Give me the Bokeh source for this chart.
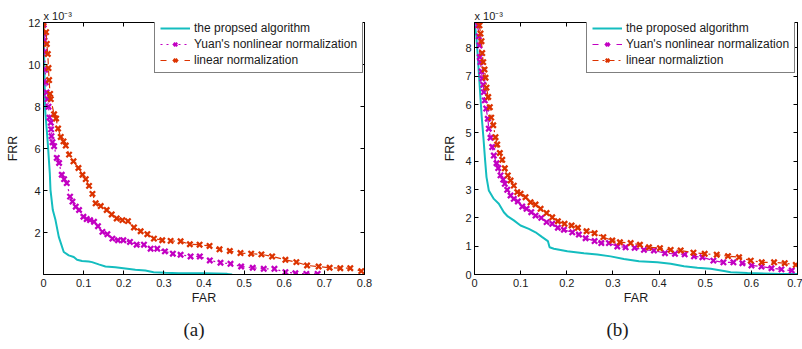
from bokeh.plotting import figure
from bokeh.models import LinearAxis, FixedTicker, Range1d, Legend, LegendItem, Title
from bokeh.layouts import row
from bokeh.embed import file_html
from bokeh.resources import INLINE

# ---------------- data (FRR in units of 1e-3) ----------------
# panel (a)
A_PROP_FAR = [0.0, 0.002, 0.004, 0.010, 0.0157, 0.0174, 0.0232, 0.0299, 0.0381, 0.0505, 0.063, 0.0754,
              0.0836, 0.096, 0.1127, 0.121, 0.1376, 0.1543, 0.1791, 0.204, 0.2289, 0.2538, 0.2744, 0.3036,
              0.3367, 0.40, 0.4578, 0.4702]
A_PROP_FRR = [12.0, 10.0, 7.87, 6.43, 4.83, 4.03, 3.07, 2.59, 1.79, 1.07, 0.91, 0.83,
              0.70, 0.64, 0.62, 0.59, 0.48, 0.38, 0.35, 0.29, 0.23, 0.19, 0.11, 0.08,
              0.06, 0.06, 0.03, 0.0]

A_YUAN_FAR = [0.0005, 0.0015, 0.0025, 0.0032, 0.004, 0.0057, 0.0075, 0.010, 0.0124, 0.0149, 0.0182, 0.0189,
              0.0199, 0.0224, 0.0264, 0.0331, 0.0388, 0.0455, 0.0513, 0.058, 0.0662, 0.0722, 0.0804, 0.0886,
              0.0995, 0.1077, 0.116, 0.1259, 0.1358, 0.1468, 0.1592, 0.1717, 0.1856, 0.199, 0.2155, 0.2321,
              0.2503, 0.267, 0.2836, 0.3026, 0.3224, 0.3416, 0.3665, 0.3896, 0.4145, 0.4411, 0.466, 0.4926,
              0.5215, 0.5489, 0.5755, 0.6029, 0.6277, 0.6551, 0.6832]
A_YUAN_FRR = [11.9, 11.46, 11.14, 10.59, 9.75, 9.15, 8.67, 8.35, 7.99, 7.47, 7.23, 6.91,
              6.59, 6.30, 6.11, 5.55, 5.31, 4.75, 4.54, 4.35, 3.71, 3.47, 3.23, 3.07,
              2.75, 2.64, 2.59, 2.51, 2.30, 2.03, 1.92, 1.71, 1.63, 1.63, 1.55, 1.42,
              1.42, 1.23, 1.23, 1.10, 0.99, 0.94, 0.86, 0.86, 0.67, 0.56, 0.51, 0.38,
              0.32, 0.27, 0.27, 0.11, 0.06, 0.03, 0.03]

A_LIN_FAR = [0.0, 0.0065, 0.0082, 0.0107, 0.0124, 0.0139, 0.0164, 0.0182, 0.0264, 0.0314, 0.0363, 0.043,
             0.0498, 0.0555, 0.0637, 0.0747, 0.0871, 0.0971, 0.1053, 0.1135, 0.122, 0.130, 0.1426, 0.1575,
             0.170, 0.1824, 0.1966, 0.2105, 0.2255, 0.2421, 0.2588, 0.2752, 0.296, 0.3168, 0.3416, 0.3648,
             0.389, 0.4138, 0.4387, 0.4643, 0.4909, 0.5175, 0.5431, 0.5698, 0.6029, 0.6302, 0.6569, 0.6857,
             0.7131, 0.7397, 0.7646, 0.792]
A_LIN_FRR = [11.99, 11.54, 10.98, 10.50, 9.83, 9.26, 8.60, 8.35, 7.63, 7.43, 6.95, 6.55,
             6.34, 6.14, 5.71, 5.39, 5.07, 4.75, 4.54, 4.22, 3.84, 3.39, 3.26, 3.07,
             2.86, 2.67, 2.59, 2.54, 2.24, 2.06, 1.92, 1.71, 1.63, 1.60, 1.58, 1.44,
             1.42, 1.36, 1.20, 1.12, 1.02, 0.99, 0.96, 0.86, 0.70, 0.59, 0.43, 0.38,
             0.32, 0.30, 0.30, 0.16]

# panel (b)
B_PROP_FAR = [0.0, 0.004, 0.0075, 0.0115, 0.0155, 0.0195, 0.023, 0.026, 0.031, 0.0419, 0.0527, 0.0636,
              0.0722, 0.0852, 0.0998, 0.1178, 0.1323, 0.1468, 0.159, 0.1627, 0.172, 0.2011, 0.2371, 0.2661,
              0.295, 0.3238, 0.3564, 0.3963, 0.4251, 0.454, 0.483, 0.5119, 0.5407, 0.5553, 0.5915, 0.6637, 0.70]
B_PROP_FRR = [8.9, 8.4, 7.6, 6.6, 5.6, 4.8, 4.03, 3.44, 2.97, 2.67, 2.50, 2.20,
              2.05, 1.91, 1.73, 1.61, 1.49, 1.32, 1.18, 0.96, 0.91, 0.82, 0.75, 0.71,
              0.64, 0.55, 0.47, 0.43, 0.38, 0.29, 0.24, 0.20, 0.12, 0.08, 0.05, 0.02, 0.02]

B_YUAN_FAR = [0.0072, 0.0093, 0.0108, 0.0115, 0.013, 0.0152, 0.0167, 0.0189, 0.0202, 0.0223, 0.0254, 0.0288,
              0.031, 0.0347, 0.0384, 0.0419, 0.0477, 0.0514, 0.0564, 0.0622, 0.0657, 0.0709, 0.0781, 0.0852,
              0.0939, 0.1035, 0.1128, 0.123, 0.1323, 0.1447, 0.1562, 0.1685, 0.1807, 0.1937, 0.2119, 0.2262,
              0.2408, 0.2603, 0.2748, 0.2913, 0.3095, 0.3275, 0.347, 0.3672, 0.3889, 0.4128, 0.4345, 0.4555,
              0.4757, 0.4939, 0.5177, 0.5394, 0.5611, 0.5806, 0.6002, 0.6219, 0.6436, 0.6652, 0.6876]
B_YUAN_FRR = [8.80, 8.41, 8.09, 7.68, 7.50, 7.17, 6.92, 6.70, 6.44, 6.15, 5.86, 5.50,
              5.15, 4.83, 4.50, 4.20, 3.93, 3.76, 3.50, 3.35, 3.20, 2.99, 2.79, 2.67,
              2.58, 2.40, 2.32, 2.20, 2.08, 2.00, 1.85, 1.79, 1.65, 1.58, 1.49, 1.41,
              1.28, 1.18, 1.11, 1.11, 0.99, 0.96, 0.94, 0.87, 0.85, 0.75, 0.73, 0.71,
              0.64, 0.61, 0.49, 0.43, 0.43, 0.40, 0.32, 0.28, 0.22, 0.18, 0.14]

B_LIN_FAR = [0.0108, 0.013, 0.0152, 0.0167, 0.0189, 0.0217, 0.0239, 0.026, 0.0297, 0.0332, 0.0362, 0.0406,
             0.0455, 0.0492, 0.0549, 0.0601, 0.0657, 0.0722, 0.0781, 0.0852, 0.0926, 0.0998, 0.1106, 0.1215,
             0.1323, 0.1432, 0.1562, 0.1685, 0.1807, 0.1952, 0.2104, 0.2241, 0.2429, 0.2603, 0.2792, 0.2987,
             0.3152, 0.3384, 0.3585, 0.3781, 0.4019, 0.4251, 0.4468, 0.4744, 0.4989, 0.5249, 0.5494, 0.5733,
             0.5987, 0.6225, 0.6492, 0.6724, 0.6963]
B_LIN_FRR = [8.80, 8.51, 8.24, 7.82, 7.50, 7.24, 6.95, 6.60, 6.27, 5.91, 5.54, 5.27,
             4.85, 4.59, 4.29, 4.05, 3.75, 3.50, 3.32, 3.14, 2.91, 2.85, 2.73, 2.55,
             2.47, 2.32, 2.17, 2.02, 1.88, 1.79, 1.73, 1.65, 1.53, 1.46, 1.32, 1.20,
             1.14, 1.11, 1.05, 0.96, 0.93, 0.87, 0.85, 0.77, 0.73, 0.70, 0.65, 0.61,
             0.49, 0.43, 0.43, 0.40, 0.34]

A_NAMES = ["the propsed algorithm", "Yuan's nonlinear normalization", "linear normalization"]
B_NAMES = ["the proposed algorithm", "Yuan's nonlinear normalization", "linear normaliztion"]

A_XTICKS = [0, 0.1, 0.2, 0.3, 0.4, 0.5, 0.6, 0.7, 0.8]
A_XLABELS = ["0", "0.1", "0.2", "0.3", "0.4", "0.5", "0.6", "0.7", "0.8"]
A_YTICKS = [2, 4, 6, 8, 10, 12]
A_YLABELS = ["2", "4", "6", "8", "10", "12"]
B_XTICKS = [0, 0.1, 0.2, 0.3, 0.4, 0.5, 0.6, 0.7]
B_XLABELS = ["0", "0.1", "0.2", "0.3", "0.4", "0.5", "0.6", "0.7"]
B_YTICKS = [0, 1, 2, 3, 4, 5, 6, 7, 8]
B_YLABELS = ["0", "1", "2", "3", "4", "5", "6", "7", "8"]
SCALE_NOTE = "x 10\u207b\u00b3"

# ---------------- style ----------------
FONT = "Liberation Sans"
SERIF = "Liberation Serif"
CYAN = "#14BDBF"
MAG = "#C200C2"
RED = "#DC3300"
TXT = "#1a1a1a"
H = 349
TOP, BOTTOM = 22, 75


def style_axis(ax, ticks, labels, show_labels=True):
    ax.ticker = FixedTicker(ticks=ticks)
    ax.major_label_overrides = {t: l for t, l in zip(ticks, labels)}
    ax.major_tick_in = 4
    ax.major_tick_out = 0
    ax.minor_tick_in = 0
    ax.minor_tick_out = 0
    ax.axis_line_color = "black"
    ax.axis_line_width = 1
    ax.major_tick_line_color = "black"
    ax.major_label_text_font = FONT
    ax.major_label_text_color = TXT
    if show_labels:
        ax.major_label_text_font_size = "11px"
    else:
        ax.major_label_text_font_size = "0px"
        ax.major_label_text_alpha = 0
        ax.major_label_standoff = 0


def panel(width, left, right, xr, yr, xt, xl, yt, yl, data, names, dashes, caption, cap_off, leg_x):
    p = figure(width=width, height=H, x_range=Range1d(*xr), y_range=Range1d(*yr),
               output_backend="svg", toolbar_location=None,
               min_border_left=left, min_border_right=right,
               min_border_top=TOP, min_border_bottom=BOTTOM)
    p.grid.visible = False
    p.outline_line_color = "black"
    p.outline_line_width = 1
    p.background_fill_color = "white"
    p.border_fill_color = "white"

    # exponent note above the frame (as a left-aligned title)
    p.title.text = SCALE_NOTE
    p.title.align = "left"
    p.title.text_font = FONT
    p.title.text_font_size = "11px"
    p.title.text_font_style = "normal"
    p.title.text_color = TXT
    p.title.standoff = 2
    p.title.offset = 0

    xa = p.xaxis[0]
    style_axis(xa, xt, xl)
    xa.major_label_standoff = 4
    xa.axis_label = "FAR"
    xa.axis_label_text_font = FONT
    xa.axis_label_text_font_size = "12.5px"
    xa.axis_label_text_font_style = "normal"
    xa.axis_label_text_color = TXT
    xa.axis_label_standoff = 1

    ya = p.yaxis[0]
    style_axis(ya, yt, yl)
    ya.major_label_standoff = 3
    ya.axis_label = "FRR"
    ya.axis_label_text_font = FONT
    ya.axis_label_text_font_size = "12.5px"
    ya.axis_label_text_font_style = "normal"
    ya.axis_label_text_color = TXT
    ya.axis_label_standoff = 5

    top = LinearAxis()
    style_axis(top, xt, xl, show_labels=False)
    p.add_layout(top, "above")
    rgt = LinearAxis()
    style_axis(rgt, yt, yl, show_labels=False)
    p.add_layout(rgt, "right")

    (pf, pr), (yf, yr_), (lf, lr) = data
    r_prop = p.line(pf, pr, line_color=CYAN, line_width=2)
    r_yl = p.line(yf, yr_, line_color=MAG, line_width=1.2, line_dash=dashes[0])
    r_ys = p.scatter(yf, yr_, marker="x", size=7.5, line_color=MAG, line_width=2.3)
    r_ll = p.line(lf, lr, line_color=RED, line_width=1.2, line_dash=dashes[1])
    r_ls = p.scatter(lf, lr, marker="x", size=7.5, line_color=RED, line_width=2.3)

    legend = Legend(items=[LegendItem(label=names[0], renderers=[r_prop]),
                           LegendItem(label=names[1], renderers=[r_yl, r_ys]),
                           LegendItem(label=names[2], renderers=[r_ll, r_ls])],
                    location=(leg_x, 201), orientation="vertical",
                    border_line_color="black", border_line_width=1.6,
                    background_fill_color="white", background_fill_alpha=1,
                    label_text_font=FONT, label_text_font_size="12px", label_text_color=TXT,
                    glyph_width=30, glyph_height=12, label_height=12, label_standoff=4,
                    spacing=2, padding=5, margin=0)
    p.add_layout(legend)

    cap = Title(text=caption, align="left", offset=cap_off, standoff=18,
                text_font=SERIF, text_font_size="19px", text_font_style="normal",
                text_color=TXT)
    p.add_layout(cap, "below")
    return p


pa = panel(400, 43, 36, (0, 0.8), (0, 12), A_XTICKS, A_XLABELS, A_YTICKS, A_YLABELS,
           ((A_PROP_FAR, A_PROP_FRR), (A_YUAN_FAR, A_YUAN_FRR), (A_LIN_FAR, A_LIN_FRR)),
           A_NAMES, ("dotted", "dashed"), "(a)", 140, 111)
pb = panel(402, 74, 5, (0, 0.7), (0, 8.9), B_XTICKS, B_XLABELS, B_YTICKS, B_YLABELS,
           ((B_PROP_FAR, B_PROP_FRR), (B_YUAN_FAR, B_YUAN_FRR), (B_LIN_FAR, B_LIN_FRR)),
           B_NAMES, ("dashed", "dashdot"), "(b)", 132, 112)

layout = row(pa, pb, spacing=0)
open("out.html", "w").write(file_html(layout, INLINE))
